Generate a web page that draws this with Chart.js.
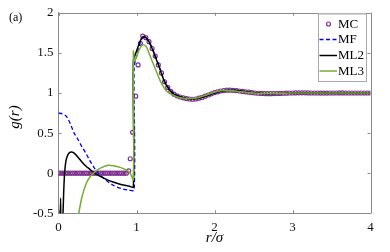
<!DOCTYPE html>
<html>
<head>
<meta charset="utf-8">
<script src="https://cdn.jsdelivr.net/npm/chart.js@4"></script>
<style>
  html, body { margin: 0; padding: 0; background: #fff; }
  #wrap { width: 390px; height: 252px; }
</style>
</head>
<body>
<div id="wrap"><canvas id="chart" width="390" height="252"></canvas></div>
<script>
// r/sigma grid helper (sampling positions only)
function grid(start, stop, step) {
    const out = [];
    for (let v = start; v <= stop + 1e-9; v += step) out.push(+v.toFixed(3));
    return out;
}

// MC - Monte Carlo (open circles)
const mcR = [].concat(
    grid(0, 0.87, 0.03),
    [0.90, 0.92, 0.95, 0.99, 1.02, 1.05],
    grid(1.08, 4.0, 0.04)
);
const mcG = [
    0, 0, 0, 0, 0, 0, 0, 0, 0, 0, 0, 0, 0, 0, 0, 0, 0, 0, 0, 0, 0, 0, 0, 0, 0, 0, 0, 0, 0, 0,
    0.03, 0.18, 0.51, 0.96, 1.35, 1.62,
    1.71, 1.69, 1.64, 1.555, 1.46, 1.35, 1.25, 1.14, 1.07, 1.02,
    0.985, 0.965, 0.95, 0.94, 0.93, 0.925, 0.922, 0.925, 0.935, 0.945,
    0.96, 0.975, 0.99, 1.005, 1.015, 1.025, 1.03, 1.035, 1.035, 1.033,
    1.03, 1.025, 1.02, 1.015, 1.01, 1.005, 1.0, 0.997, 0.995, 0.993,
    0.992, 0.992, 0.993, 0.994, 0.995, 0.997, 0.998, 1.0, 1.0, 1.001,
    1.002, 1.002, 1.002, 1.001, 1.0, 1.0, 1.0, 0.999, 0.999, 0.999,
    1.0, 1.0, 1.0, 1.001, 1.001, 1.0, 1.0, 1.0, 1.0, 1.0,
    1.0, 1.0, 1.0, 1.0
];

// MF - mean field (blue dashed)
const mfR = [0, 0.05, 0.1, 0.15, 0.2, 0.25, 0.3, 0.35, 0.4, 0.45, 0.5, 0.6, 0.7, 0.8, 0.9, 0.97,
    0.97, 1.0, 1.04, 1.08, 1.12, 1.16, 1.2, 1.25, 1.3, 1.35, 1.4, 1.45, 1.5, 1.6, 1.7, 1.8, 1.9,
    2.0, 2.1, 2.2, 2.3, 2.4, 2.5, 2.6, 2.8, 3.0, 3.5, 4.0];
const mfG = [0.75, 0.74, 0.71, 0.62, 0.5, 0.42, 0.33, 0.25, 0.16, 0.08, 0.01, -0.08, -0.15, -0.19, -0.21, -0.21,
    1.33, 1.45, 1.6, 1.69, 1.69, 1.64, 1.56, 1.44, 1.31, 1.17, 1.08, 1.02, 0.98, 0.94, 0.925, 0.935, 0.965,
    1.0, 1.025, 1.035, 1.03, 1.015, 1.005, 0.995, 0.993, 1.0, 1.0, 1.0];

// ML2 (black)
const ml2R = [0.012, 0.027, 0.034, 0.058, 0.066, 0.078, 0.095, 0.12, 0.145, 0.17, 0.2, 0.25,
    0.3, 0.35, 0.4, 0.45, 0.5, 0.6, 0.7, 0.8, 0.9, 0.96, 0.96, 1.0, 1.04, 1.07, 1.09, 1.12, 1.16,
    1.2, 1.25, 1.3, 1.35, 1.4, 1.45, 1.5, 1.6, 1.7, 1.8, 1.9, 2.0, 2.1, 2.2, 2.3, 2.4, 2.5, 2.6,
    2.7, 2.8, 2.9, 3.0, 3.2, 3.4, 3.6, 3.8, 4.0];
const ml2G = [-1.0, -0.31, -1.0, -0.5, -0.25, 0.0, 0.15, 0.23, 0.26, 0.265, 0.25, 0.2,
    0.14, 0.09, 0.05, 0.01, -0.02, -0.07, -0.11, -0.14, -0.16, -0.17, 1.40, 1.52, 1.63, 1.69, 1.705, 1.69, 1.64,
    1.555, 1.43, 1.30, 1.16, 1.07, 1.01, 0.975, 0.94, 0.925, 0.935, 0.965, 1.0, 1.025, 1.035, 1.03, 1.015, 1.005, 0.995,
    0.99, 0.993, 0.997, 1.0, 1.001, 1.0, 1.0, 1.0, 1.0];

// ML3 (green)
const ml3R = [0.18, 0.22, 0.26, 0.3, 0.35, 0.4, 0.47, 0.55, 0.64, 0.72, 0.8, 0.87, 0.92, 0.96,
    0.96, 0.975, 1.0, 1.04, 1.08, 1.12, 1.16, 1.2, 1.25, 1.3, 1.35, 1.4, 1.5, 1.6, 1.7, 1.8, 1.9,
    2.0, 2.1, 2.2, 2.3, 2.4, 2.5, 2.6, 2.7, 2.8, 3.0, 3.2, 3.4, 3.6, 3.8, 4.0];
const ml3G = [-1.1, -0.75, -0.5, -0.3, -0.14, -0.05, 0.02, 0.07, 0.10, 0.09, 0.07, 0.04, 0.0, -0.08,
    1.52, 1.40, 1.45, 1.55, 1.60, 1.585, 1.50, 1.40, 1.28, 1.16, 1.07, 1.01, 0.96, 0.935, 0.93, 0.945, 0.975,
    1.01, 1.03, 1.03, 1.02, 1.01, 1.0, 0.995, 0.993, 0.995, 1.0, 1.001, 1.0, 1.0, 1.0, 1.0];

const xTicks = [0, 1, 2, 3, 4];
const yTicks = [-0.5, 0, 0.5, 1, 1.5, 2];

const COLORS = { MC: '#7E2F8E', MF: '#0000FF', ML2: '#000000', ML3: '#77AC30' };
const FONT = "'Liberation Serif', 'DejaVu Serif', serif";
const AXIS = '#8a8a8a';

const pts = (xs, ys) => xs.map((x, i) => ({ x, y: ys[i] }));

// box, inward ticks, legend and labels in MATLAB style
const matlabAxes = {
    id: 'matlabAxes',
    beforeDatasetsDraw(chart) {
        const { ctx, chartArea: a, scales } = chart;
        ctx.save();
        ctx.strokeStyle = AXIS;
        ctx.lineWidth = 1;
        ctx.beginPath();
        ctx.moveTo(a.left, Math.round(a.top) + 0.5);
        ctx.lineTo(a.right, Math.round(a.top) + 0.5);
        ctx.moveTo(Math.round(a.right) + 0.5, a.top);
        ctx.lineTo(Math.round(a.right) + 0.5, a.bottom);
        const tl = 3;
        xTicks.forEach(v => {
            const x = Math.round(scales.x.getPixelForValue(v)) + 0.5;
            ctx.moveTo(x, a.bottom); ctx.lineTo(x, a.bottom - tl);
            ctx.moveTo(x, a.top); ctx.lineTo(x, a.top + tl);
        });
        yTicks.forEach(v => {
            const y = Math.round(scales.y.getPixelForValue(v)) + 0.5;
            ctx.moveTo(a.left, y); ctx.lineTo(a.left + tl, y);
            ctx.moveTo(a.right, y); ctx.lineTo(a.right - tl, y);
        });
        ctx.stroke();
        ctx.restore();
    },
    afterDraw(chart) {
        const { ctx, chartArea: a } = chart;
        ctx.save();

        // legend
        const lx = 318, ly = 13.5, lw = 48, lh = 67.5;
        ctx.fillStyle = '#fff';
        ctx.fillRect(lx, ly, lw, lh);
        ctx.strokeStyle = '#a8a8a8';
        ctx.lineWidth = 1;
        ctx.strokeRect(lx + 0.5, ly + 0.5, lw, lh);
        const rows = [
            { name: 'MC', y: 24 },
            { name: 'MF', y: 39.5 },
            { name: 'ML2', y: 55.5 },
            { name: 'ML3', y: 71 }
        ];
        rows.forEach(r => {
            ctx.beginPath();
            if (r.name === 'MC') {
                ctx.strokeStyle = COLORS.MC;
                ctx.lineWidth = 1.2;
                ctx.arc(328.5, r.y, 2, 0, Math.PI * 2);
                ctx.stroke();
            } else {
                ctx.strokeStyle = COLORS[r.name];
                ctx.lineWidth = r.name === 'MF' ? 1.3 : 1.5;
                ctx.setLineDash(r.name === 'MF' ? [4, 2.5] : []);
                ctx.moveTo(319.5, r.y);
                ctx.lineTo(337, r.y);
                ctx.stroke();
                ctx.setLineDash([]);
            }
            ctx.fillStyle = '#000';
            ctx.font = '13px ' + FONT;
            ctx.textAlign = 'left';
            ctx.textBaseline = 'middle';
            ctx.fillText(r.name, 338, r.y + 0.5);
        });

        // panel label
        ctx.fillStyle = '#000';
        ctx.font = '12px ' + FONT;
        ctx.textAlign = 'left';
        ctx.textBaseline = 'alphabetic';
        ctx.fillText('(a)', 9, 21);

        // x title
        ctx.font = 'italic 15px ' + FONT;
        ctx.textAlign = 'center';
        ctx.textBaseline = 'middle';
        ctx.fillText('r/σ', (a.left + a.right) / 2, 238);

        // y title
        ctx.translate(15, 117);
        ctx.rotate(-Math.PI / 2);
        ctx.fillText('g(r)', 0, 0);
        ctx.restore();
    }
};

new Chart(document.getElementById('chart'), {
    type: 'scatter',
    data: {
        datasets: [
            {
                label: 'MC', data: pts(mcR, mcG), showLine: false,
                borderColor: COLORS.MC, backgroundColor: 'rgba(0,0,0,0)',
                pointRadius: 2, pointBorderWidth: 1.2, pointHoverRadius: 2, order: 4
            },
            {
                label: 'MF', data: pts(mfR, mfG), showLine: true, borderColor: COLORS.MF,
                borderWidth: 1.3, borderDash: [4, 2.5], pointRadius: 0, tension: 0.3, order: 3
            },
            {
                label: 'ML2', data: pts(ml2R, ml2G), showLine: true, borderColor: COLORS.ML2,
                borderWidth: 1.5, pointRadius: 0, tension: 0.3, order: 2
            },
            {
                label: 'ML3', data: pts(ml3R, ml3G), showLine: true, borderColor: COLORS.ML3,
                borderWidth: 1.5, pointRadius: 0, tension: 0.3, order: 1
            }
        ]
    },
    options: {
        responsive: false,
        animation: false,
        devicePixelRatio: 1,
        layout: { padding: { top: 12.7, right: 19.5, left: 0, bottom: 0 } },
        plugins: { legend: { display: false }, tooltip: { enabled: false } },
        scales: {
            x: {
                type: 'linear', min: 0, max: 4,
                grid: { display: false, drawTicks: false },
                border: { display: true, color: AXIS, width: 1 },
                ticks: { stepSize: 1, padding: 6, color: '#111', font: { family: FONT, size: 13 },
                    callback: v => String(v) },
                afterFit: s => { s.height = 38.7; }
            },
            y: {
                type: 'linear', min: -0.5, max: 2,
                grid: { display: false, drawTicks: false },
                border: { display: true, color: AXIS, width: 1 },
                ticks: { stepSize: 0.5, padding: 5, color: '#111', font: { family: FONT, size: 13 },
                    callback: v => String(v) },
                afterFit: s => { s.width = 58.5; }
            }
        }
    },
    plugins: [matlabAxes]
});
</script>
</body>
</html>
